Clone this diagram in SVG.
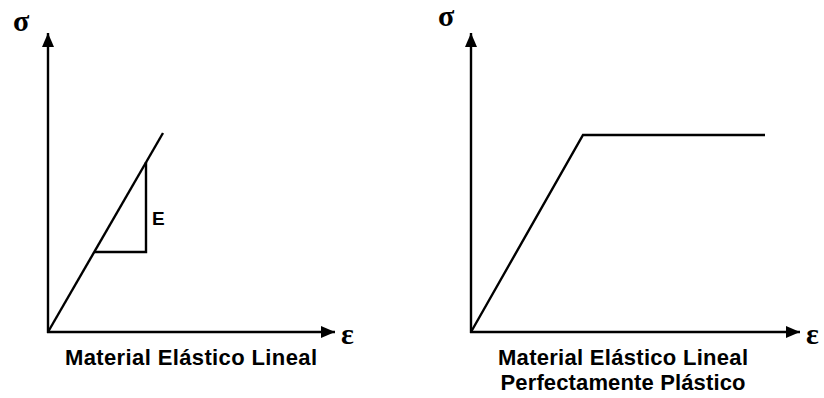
<svg xmlns="http://www.w3.org/2000/svg" width="824" height="398" viewBox="0 0 824 398">
<style>
.ln{stroke:#000;stroke-width:2.4;fill:none;stroke-linejoin:miter}
.ax{stroke:#000;stroke-width:2.4;fill:none}
.lbl{font-family:"Liberation Sans",Arial,sans-serif;font-weight:bold;font-size:22px;fill:#000}
.gr{font-family:"Liberation Serif","Times New Roman",serif;font-weight:bold;font-size:30px;fill:#000}
.e{font-family:"Liberation Sans",Arial,sans-serif;font-weight:bold;font-size:19px;fill:#000}
</style>
<defs>
<marker id="ah" viewBox="0 0 14 12" refX="14" refY="6" markerWidth="14" markerHeight="12" markerUnits="userSpaceOnUse" orient="auto">
<path d="M0,0 L14,6 L0,12 Z" fill="#000"/>
</marker>
</defs>
<rect width="824" height="398" fill="#fff"/>
<g id="connectors">
<line class="ax" x1="48" y1="333" x2="48" y2="33" marker-end="url(#ah)"/>
<line class="ax" x1="47" y1="332" x2="335" y2="332" marker-end="url(#ah)"/>
<line class="ax" x1="471" y1="333" x2="471" y2="33" marker-end="url(#ah)"/>
<line class="ax" x1="470" y1="332" x2="800" y2="332" marker-end="url(#ah)"/>
<line class="ln" x1="48" y1="332" x2="163" y2="133"/>
<polyline class="ln" points="94,252 146,252 146,162"/>
<polyline class="ln" points="471,332 583,135 765,135"/>
</g>
<g id="left-sigma"><text class="gr" x="13" y="31">σ</text></g>
<g id="left-eps"><text class="gr" x="341" y="344">ε</text></g>
<g id="E-label"><text class="e" x="152" y="225">E</text></g>
<g id="left-caption"><text class="lbl" x="191" y="365" text-anchor="middle" textLength="252" lengthAdjust="spacing">Material Elástico Lineal</text></g>
<g id="right-sigma"><text class="gr" x="438" y="26">σ</text></g>
<g id="right-eps"><text class="gr" x="806" y="344">ε</text></g>
<g id="right-caption">
<text class="lbl" x="623" y="365" text-anchor="middle" textLength="250" lengthAdjust="spacing">Material Elástico Lineal</text>
<text class="lbl" x="623" y="390" text-anchor="middle" textLength="245" lengthAdjust="spacing">Perfectamente Plástico</text>
</g>
</svg>
